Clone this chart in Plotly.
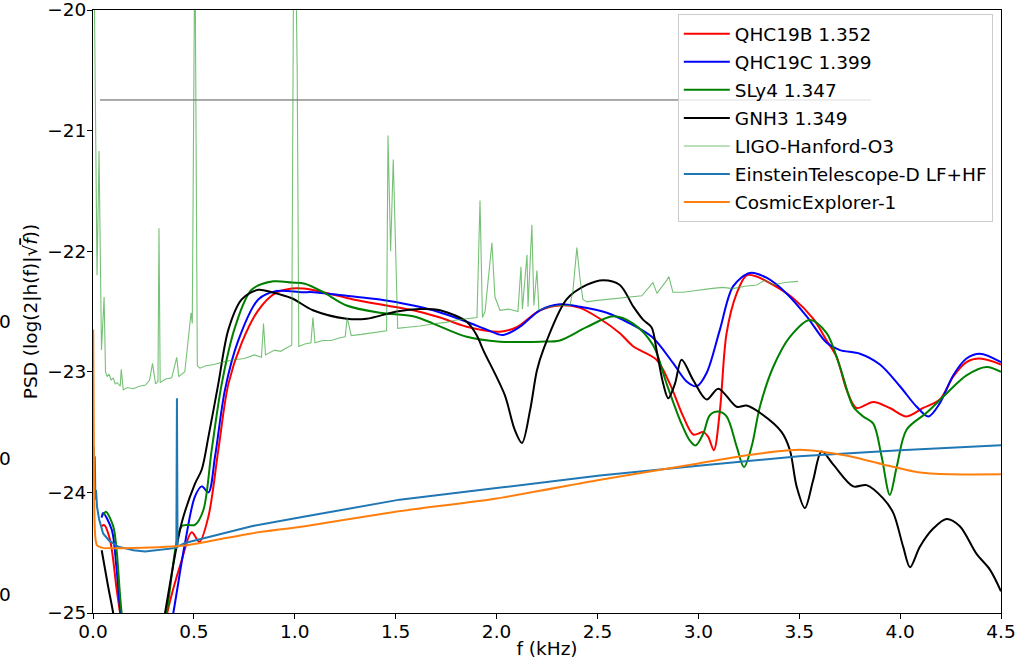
import plotly.graph_objects as go

# ---- Frequency (kHz) / log10 PSD samples for each equation of state ----
qhc19b_f = [0.043, 0.055, 0.084, 0.117, 0.134, 0.25, 0.368, 0.44, 0.489, 0.527, 0.572, 0.621, 0.671,
            0.737, 0.819, 0.902, 0.985, 1.042, 1.14, 1.29, 1.455, 1.587, 1.72, 1.852, 2.017, 2.1,
            2.215, 2.314, 2.413, 2.512, 2.611, 2.678, 2.793, 2.859, 2.925, 2.975, 3.025, 3.049,
            3.077, 3.107, 3.14, 3.19, 3.239, 3.289, 3.371, 3.47, 3.569, 3.636, 3.685, 3.735, 3.784,
            3.867, 3.949, 4.032, 4.114, 4.197, 4.263, 4.329, 4.395, 4.5]
qhc19b_v = [-24.28, -24.27, -24.39, -24.8, -25.0, -26.3, -25.0, -24.56, -24.33, -24.41, -24.2, -23.65,
            -23.1, -22.76, -22.49, -22.35, -22.31, -22.31, -22.34, -22.40, -22.45, -22.49, -22.55,
            -22.626, -22.667, -22.63, -22.49, -22.45, -22.47, -22.56, -22.68, -22.79, -22.90, -23.1,
            -23.37, -23.52, -23.5, -23.54, -23.65, -23.32, -22.68, -22.35, -22.2, -22.21, -22.28,
            -22.39, -22.56, -22.74, -22.875, -23.15, -23.30, -23.25, -23.30, -23.37, -23.30, -23.23,
            -23.04, -22.92, -22.89, -22.94]

qhc19c_f = [0.043, 0.05, 0.093, 0.116, 0.137, 0.26, 0.398, 0.456, 0.505, 0.539, 0.572, 0.605, 0.654,
            0.72, 0.819, 0.91, 1.034, 1.092, 1.257, 1.422, 1.587, 1.686, 1.852, 1.951, 2.033, 2.116,
            2.215, 2.314, 2.413, 2.546, 2.645, 2.77, 2.876, 2.942, 2.992, 3.041, 3.107, 3.173, 3.256,
            3.338, 3.437, 3.537, 3.636, 3.702, 3.801, 3.9, 3.999, 4.082, 4.14, 4.197, 4.263, 4.329,
            4.395, 4.5]
qhc19c_v = [-24.21, -24.17, -24.31, -24.62, -25.0, -26.3, -25.0, -24.42, -24.035, -23.95, -24.0,
            -23.70, -23.15, -22.74, -22.40, -22.33, -22.34, -22.34, -22.37, -22.40, -22.45, -22.49,
            -22.585, -22.65, -22.695, -22.626, -22.49, -22.44, -22.46, -22.51, -22.585, -22.71,
            -22.93, -23.08, -23.12, -23.01, -22.65, -22.29, -22.18, -22.22, -22.35, -22.54, -22.76,
            -22.82, -22.85, -22.94, -23.12, -23.29, -23.37, -23.26, -23.03, -22.89, -22.85, -22.92]

sly4_f = [0.051, 0.064, 0.1, 0.117, 0.142, 0.25, 0.365, 0.44, 0.472, 0.505, 0.547, 0.588, 0.638, 0.704,
          0.786, 0.894, 0.985, 1.05, 1.141, 1.257, 1.422, 1.587, 1.686, 1.852, 2.017, 2.215, 2.314,
          2.446, 2.578, 2.677, 2.776, 2.843, 2.909, 2.958, 2.987, 3.025, 3.057, 3.099, 3.14, 3.19,
          3.226, 3.264, 3.305, 3.371, 3.454, 3.553, 3.636, 3.702, 3.768, 3.817, 3.867, 3.908, 3.949,
          3.983, 4.032, 4.131, 4.23, 4.329, 4.428, 4.5]
sly4_v = [-24.19, -24.16, -24.28, -24.48, -25.0, -26.3, -25.0, -24.28, -24.27, -24.27, -24.146, -23.65,
          -23.1, -22.63, -22.32, -22.25, -22.26, -22.27, -22.34, -22.45, -22.51, -22.54, -22.6,
          -22.71, -22.75, -22.75, -22.74, -22.63, -22.54, -22.6, -22.78, -23.1, -23.40, -23.57,
          -23.61, -23.51, -23.36, -23.33, -23.37, -23.62, -23.79, -23.62, -23.29, -22.96, -22.71,
          -22.57, -22.68, -22.96, -23.29, -23.37, -23.43, -23.70, -24.02, -23.79, -23.48, -23.34,
          -23.18, -23.03, -22.96, -23.0]

gnh3_f = [0.043, 0.075, 0.1, 0.23, 0.357, 0.44, 0.505, 0.539, 0.572, 0.621, 0.671, 0.737, 0.819, 0.885,
          0.985, 1.09, 1.257, 1.356, 1.505, 1.62, 1.72, 1.852, 1.901, 1.934, 2.04, 2.09, 2.126, 2.166,
          2.2, 2.231, 2.347, 2.446, 2.529, 2.611, 2.678, 2.727, 2.768, 2.793, 2.826, 2.851, 2.884,
          2.917, 2.975, 3.041, 3.099, 3.19, 3.239, 3.305, 3.413, 3.454, 3.487, 3.528, 3.569, 3.611,
          3.669, 3.768, 3.834, 3.916, 3.966, 4.015, 4.049, 4.098, 4.164, 4.23, 4.296, 4.379, 4.445,
          4.5]
gnh3_v = [-24.48, -24.78, -25.0, -26.3, -25.0, -24.25, -23.93, -23.81, -23.54, -23.1, -22.65, -22.40,
          -22.32, -22.34, -22.39, -22.49, -22.56, -22.56, -22.5, -22.48, -22.49, -22.585, -22.695,
          -22.82, -23.19, -23.48, -23.59, -23.32, -22.99, -22.82, -22.4, -22.28, -22.24, -22.28,
          -22.46, -22.57, -22.63, -22.82, -23.1, -23.22, -23.1, -22.9, -23.07, -23.23, -23.14,
          -23.29, -23.28, -23.34, -23.5, -23.65, -23.95, -24.13, -23.9, -23.66, -23.77, -23.95,
          -23.94, -24.05, -24.17, -24.45, -24.62, -24.45, -24.30, -24.22, -24.28, -24.51, -24.64,
          -24.82]

# ---- Detector noise curves ----
ligo_f = [0.004, 0.02, 0.03, 0.042, 0.055, 0.062, 0.07, 0.08, 0.09, 0.1, 0.11, 0.12, 0.135, 0.14,
          0.15, 0.17, 0.2, 0.23, 0.26, 0.28, 0.295, 0.31, 0.322, 0.327, 0.333, 0.36, 0.39, 0.415,
          0.425, 0.455, 0.486, 0.492, 0.505, 0.517, 0.53, 0.56, 0.6, 0.64, 0.7, 0.75, 0.8, 0.835,
          0.845, 0.855, 0.9, 0.93, 0.96, 0.985, 0.995, 1.005, 1.012, 1.02, 1.05, 1.08, 1.09, 1.1,
          1.14, 1.18, 1.22, 1.25, 1.26, 1.28, 1.33, 1.38, 1.43, 1.455, 1.462, 1.475, 1.488, 1.51,
          1.56, 1.62, 1.7, 1.75, 1.8, 1.85, 1.903, 1.918, 1.93, 1.943, 1.977, 1.992, 2.017, 2.06,
          2.106, 2.121, 2.128, 2.151, 2.156, 2.175, 2.185, 2.2, 2.21, 2.26, 2.31, 2.364, 2.379, 2.398,
          2.413, 2.428, 2.448, 2.49, 2.547, 2.6, 2.676, 2.72, 2.775, 2.795, 2.844, 2.854, 2.874,
          2.924, 2.97, 3.008, 3.06, 3.12, 3.171, 3.23, 3.29, 3.33, 3.37, 3.43, 3.494]
ligo_v = [-19.4, -22.2, -21.17, -22.82, -22.38, -23.0, -23.04, -23.02, -23.07, -23.05, -23.1, -23.09,
          -23.12, -22.98, -23.15, -23.13, -23.14, -23.12, -23.11, -23.07, -22.93, -23.1, -23.08,
          -21.81, -23.09, -23.06, -23.05, -22.88, -23.04, -23.0, -22.51, -22.6, -19.3, -22.95,
          -22.97, -22.95, -22.94, -22.92, -22.9, -22.89, -22.86, -22.88, -22.6, -22.86, -22.82,
          -22.83, -22.8, -22.78, -19.3, -19.6, -20.5, -22.79, -22.77, -22.76, -22.55, -22.76, -22.74,
          -22.74, -22.72, -22.71, -22.55, -22.7, -22.69, -22.68, -22.67, -22.66, -21.04, -22.0,
          -21.24, -22.64, -22.63, -22.62, -22.6, -22.59, -22.57, -22.56, -22.55, -21.58, -22.55,
          -22.5, -21.93, -22.38, -22.49, -22.48, -22.5, -22.13, -22.48, -22.03, -22.46, -21.78,
          -22.45, -22.16, -22.49, -22.46, -22.45, -22.45, -22.32, -21.97, -22.22, -22.4, -22.42,
          -22.41, -22.4, -22.39, -22.38, -22.37, -22.26, -22.35, -22.24, -22.21, -22.34, -22.34,
          -22.33, -22.32, -22.31, -22.3, -22.31, -22.29, -22.28, -22.24, -22.28, -22.26, -22.25]

et_f = [0.004, 0.007, 0.009, 0.012, 0.015, 0.02, 0.03, 0.05, 0.08, 0.125, 0.2, 0.258, 0.35, 0.406,
        0.413, 0.416, 0.419, 0.456, 0.621, 0.786, 1.05, 1.52, 2.02, 2.512, 3.0, 3.5, 4.0, 4.5]
et_v = [-23.62, -23.9, -23.7, -24.06, -23.98, -24.12, -24.22, -24.34, -24.4, -24.45, -24.48, -24.49,
        -24.47, -24.46, -24.46, -23.22, -24.45, -24.42, -24.35, -24.28, -24.2, -24.06, -23.96,
        -23.86, -23.78, -23.70, -23.65, -23.61]

ce_f = [0.001, 0.004, 0.007, 0.012, 0.02, 0.05, 0.2, 0.456, 0.621, 0.786, 1.05, 1.5, 2.0, 2.5, 3.0,
        3.25, 3.45, 3.55, 3.75, 3.92, 4.08, 4.25, 4.5]
ce_v = [-22.65, -23.6, -24.2, -24.38, -24.44, -24.46, -24.46, -24.44, -24.39, -24.34, -24.28, -24.16,
        -24.05, -23.90, -23.76, -23.69, -23.65, -23.65, -23.70, -23.77, -23.83, -23.85, -23.85]

# horizontal reference level
ref_f = [0.035, 3.855]
ref_v = [-20.746, -20.746]

# stray tick digits at the far left edge
edge_labels = ["0", "0", "0"]
edge_label_y = [-22.587, -23.715, -24.85]

x_ticks = [0.0, 0.5, 1.0, 1.5, 2.0, 2.5, 3.0, 3.5, 4.0, 4.5]
y_ticks = [-25, -24, -23, -22, -21, -20]

FONT = "DejaVu Sans"
FS = 18.5

fig = go.Figure()

fig.add_trace(go.Scatter(x=ref_f, y=ref_v, mode="lines", showlegend=False,
                         line=dict(color="#555555", width=1), hoverinfo="skip"))

models = [
    ("QHC19B 1.352", qhc19b_f, qhc19b_v, "#ff0000"),
    ("QHC19C 1.399", qhc19c_f, qhc19c_v, "#0000ff"),
    ("SLy4 1.347", sly4_f, sly4_v, "#008000"),
    ("GNH3 1.349", gnh3_f, gnh3_v, "#000000"),
]
for name, f, v, c in models:
    fig.add_trace(go.Scatter(x=f, y=v, mode="lines", name=name, legendgroup=name,
                             line=dict(color=c, width=2, shape="spline", smoothing=0.9)))

fig.add_trace(go.Scatter(x=ligo_f, y=ligo_v, mode="lines", name="LIGO-Hanford-O3",
                         legendgroup="ligo",
                         line=dict(color="rgba(44,160,44,0.65)", width=1.1)))
fig.add_trace(go.Scatter(x=et_f, y=et_v, mode="lines", name="EinsteinTelescope-D LF+HF",
                         legendgroup="et", line=dict(color="#1f77b4", width=2)))
fig.add_trace(go.Scatter(x=ce_f, y=ce_v, mode="lines", name="CosmicExplorer-1",
                         legendgroup="ce",
                         line=dict(color="#ff7f0e", width=2, shape="spline", smoothing=0.6)))

for txt, yv in zip(edge_labels, edge_label_y):
    fig.add_annotation(text=txt, xref="paper", yref="y", x=-0.0883, y=yv, xanchor="right",
                       yanchor="middle", showarrow=False, font=dict(family=FONT, size=FS, color="black"))

fig.update_layout(
    width=1021, height=664,
    margin=dict(l=93, r=20, t=10, b=51, autoexpand=False),
    paper_bgcolor="white", plot_bgcolor="white",
    font=dict(family=FONT, size=FS, color="black"),
    legend=dict(x=0.991, y=0.993, xanchor="right", yanchor="top",
                bgcolor="rgba(255,255,255,0.8)", bordercolor="#cccccc", borderwidth=1,
                font=dict(family=FONT, size=FS), itemwidth=46, tracegroupgap=1),
)
fig.update_xaxes(range=[0, 4.5], tickvals=x_ticks, tickformat=".1f", showgrid=False, zeroline=False,
                 showline=True, linecolor="black", linewidth=1, mirror=True, automargin=False,
                 ticks="outside", ticklen=5, tickcolor="black", ticklabeloverflow="allow",
                 ticklabelstandoff=-3,
                 title=dict(text="f (kHz)", standoff=0, font=dict(family=FONT, size=FS)))
fig.update_yaxes(range=[-25, -20], tickvals=y_ticks, showgrid=False, zeroline=False,
                 showline=True, linecolor="black", linewidth=1, mirror=True, automargin=False,
                 ticks="outside", ticklen=5, tickcolor="black", ticklabeloverflow="allow",
                 ticklabelstandoff=-3,
                 title=dict(text="PSD (log(2|h(f)|√<span style='text-decoration:overline'><i>f</i></span>))",
                            standoff=4, font=dict(family=FONT, size=FS)))

fig.write_html("out.html")
